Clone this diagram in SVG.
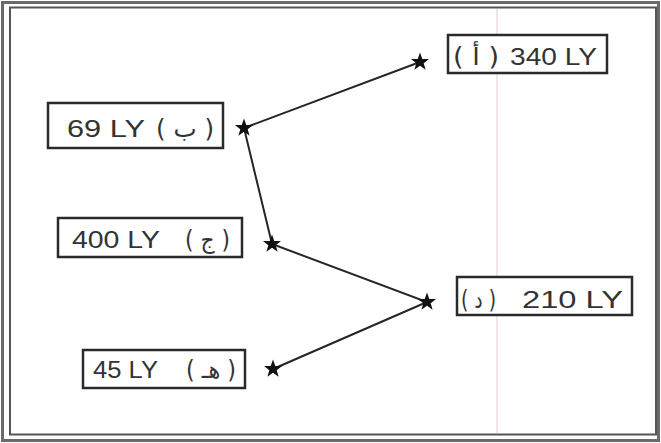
<svg xmlns="http://www.w3.org/2000/svg" width="661" height="443" viewBox="0 0 661 443">
<style>
.box{fill:#fff;stroke:#2a2a2a;stroke-width:2.5}
.t{font-family:"Liberation Sans","DejaVu Sans",sans-serif;font-size:23px;fill:#333}
.a{font-family:"DejaVu Sans","Liberation Sans",sans-serif;font-size:24px;fill:#333}
.ln{stroke:#252525;stroke-width:2;fill:none}
</style>
<defs>
<path id="star" d="M0,-9.5 L2.3,-3.1 L9,-3 L3.7,1.2 L5.6,7.7 L0,3.8 L-5.6,7.7 L-3.7,1.2 L-9,-3 L-2.3,-3.1 Z" fill="#111"/>
</defs>
<rect width="661" height="443" fill="#fff"/>
<g id="frame">
<rect x="2.5" y="2.5" width="656" height="438" fill="none" stroke="#6a6a6a" stroke-width="3"/>
<rect x="10" y="7.5" width="646" height="427" fill="none" stroke="#555" stroke-width="2"/>
<line x1="497" y1="9" x2="497" y2="433" stroke="#ecd2de" stroke-width="1.2"/>
</g>
<g id="connectors">
<polyline class="ln" points="420,62 244,128 272,244 427,302 273,369"/>
</g>
<g id="stars">
<use href="#star" x="420" y="62"/>
<use href="#star" x="244" y="128"/>
<use href="#star" x="272" y="244"/>
<use href="#star" x="427" y="302"/>
<use href="#star" x="273" y="369"/>
</g>
<g id="node-alef">
<rect class="box" x="448" y="35" width="159" height="38"/>
<text class="a" x="453" y="65" textLength="46" lengthAdjust="spacingAndGlyphs">( أ )</text>
<text class="t" x="510" y="65" textLength="87" lengthAdjust="spacingAndGlyphs">340 LY</text>
</g>
<g id="node-ba">
<rect class="box" x="48" y="103" width="175" height="45"/>
<text class="t" x="67" y="137" textLength="78" lengthAdjust="spacingAndGlyphs">69 LY</text>
<text class="a" x="156" y="137" textLength="58" lengthAdjust="spacingAndGlyphs">( ب )</text>
</g>
<g id="node-jim">
<rect class="box" x="58" y="218" width="184" height="39"/>
<text class="t" x="72" y="248" textLength="88" lengthAdjust="spacingAndGlyphs">400 LY</text>
<text class="a" x="185" y="248" textLength="45" lengthAdjust="spacingAndGlyphs">( ج )</text>
</g>
<g id="node-dal">
<rect class="box" x="457" y="277" width="175" height="38"/>
<text class="a" x="461" y="308" textLength="35" lengthAdjust="spacingAndGlyphs">( د )</text>
<text class="t" x="522" y="308" textLength="101" lengthAdjust="spacingAndGlyphs">210 LY</text>
</g>
<g id="node-ha">
<rect class="box" x="83" y="350" width="162" height="38"/>
<text class="t" x="93" y="378" textLength="65" lengthAdjust="spacingAndGlyphs">45 LY</text>
<text class="a" x="186" y="378" textLength="50" lengthAdjust="spacingAndGlyphs">( هـ )</text>
</g>
</svg>
